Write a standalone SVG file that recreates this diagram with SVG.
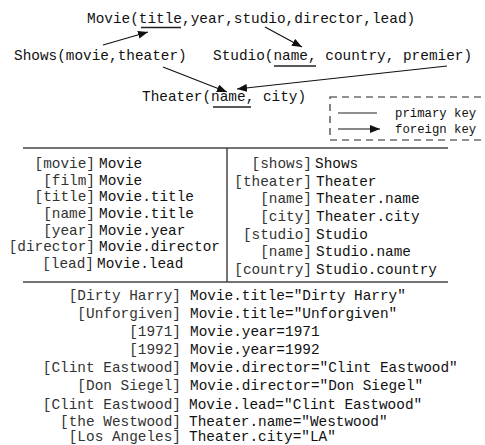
<svg xmlns="http://www.w3.org/2000/svg" width="485" height="445" viewBox="0 0 485 445">
<style>
text{font-family:"Liberation Mono","Courier New",monospace;font-size:14.4px;fill:#111}
.lab{text-anchor:end;fill:#333}
.leg{font-size:12.3px}
.ul{stroke:#222;stroke-width:1.3}
.tbl{stroke:#444;stroke-width:1.5}
.fk{stroke:#111;stroke-width:1.2;fill:none;marker-end:url(#ah)}
</style>
<defs>
<marker id="ah" viewBox="0 0 10 8" refX="10" refY="4" markerWidth="10" markerHeight="8" markerUnits="userSpaceOnUse" orient="auto">
<path d="M0,0 L10,4 L0,8 Z" fill="#111"/>
</marker>
</defs>
<rect width="485" height="445" fill="#fff"/>

<g id="movie">
<text x="87" y="23">Movie(title,year,studio,director,lead)</text>
<line class="ul" x1="141" y1="27.5" x2="181" y2="27.5"/>
</g>
<g id="shows">
<text x="14" y="60">Shows(movie,theater)</text>
</g>
<g id="studio">
<text x="213" y="60">Studio(name, country, premier)</text>
<line class="ul" x1="274" y1="66" x2="316" y2="66"/>
</g>
<g id="theater">
<text x="142" y="101">Theater(name, city)</text>
<line class="ul" x1="213" y1="107" x2="251" y2="107"/>
</g>

<g id="connectors">
<line class="fk" x1="103" y1="45" x2="148" y2="32"/>
<line class="fk" x1="265" y1="27" x2="302" y2="47"/>
<line class="fk" x1="163" y1="67" x2="227" y2="92"/>
<line class="fk" x1="447" y1="66" x2="237" y2="89"/>
</g>

<g id="legend">
<rect x="330" y="97" width="180" height="43" fill="none" stroke="#222" stroke-width="1.1" stroke-dasharray="7,5"/>
<line x1="338" y1="113" x2="377" y2="113" stroke="#222" stroke-width="1.2"/>
<text class="leg" x="395" y="117">primary key</text>
<line class="fk" x1="338" y1="129" x2="380" y2="129"/>
<text class="leg" x="395" y="133">foreign key</text>
</g>

<g id="table">
<line class="tbl" x1="23" y1="148" x2="448" y2="148"/>
<line class="tbl" x1="227" y1="148" x2="227" y2="282"/>
<line class="tbl" x1="23" y1="282" x2="448" y2="282"/>
</g>

<g id="left-col">
<text class="lab" x="95" y="168">[movie]</text><text x="99" y="168">Movie</text>
<text class="lab" x="95" y="185">[film]</text><text x="99" y="185">Movie</text>
<text class="lab" x="95" y="201">[title]</text><text x="99" y="201">Movie.title</text>
<text class="lab" x="95" y="218">[name]</text><text x="99" y="218">Movie.title</text>
<text class="lab" x="95" y="235">[year]</text><text x="99" y="235">Movie.year</text>
<text class="lab" x="95" y="251">[director]</text><text x="99" y="251">Movie.director</text>
<text class="lab" x="94" y="268">[lead]</text><text x="97" y="268">Movie.lead</text>
</g>

<g id="right-col">
<text class="lab" x="312" y="168">[shows]</text><text x="315" y="168">Shows</text>
<text class="lab" x="312" y="185.5">[theater]</text><text x="316" y="185.5">Theater</text>
<text class="lab" x="312" y="203">[name]</text><text x="316" y="203">Theater.name</text>
<text class="lab" x="312" y="221">[city]</text><text x="316" y="221">Theater.city</text>
<text class="lab" x="312" y="238.5">[studio]</text><text x="316" y="238.5">Studio</text>
<text class="lab" x="312" y="256">[name]</text><text x="316" y="256">Studio.name</text>
<text class="lab" x="312" y="273.5">[country]</text><text x="316" y="273.5">Studio.country</text>
</g>

<g id="bottom">
<text class="lab" x="181" y="300">[Dirty Harry]</text><text x="190" y="300">Movie.title="Dirty Harry"</text>
<text class="lab" x="181" y="318">[Unforgiven]</text><text x="190" y="318">Movie.title="Unforgiven"</text>
<text class="lab" x="181" y="336">[1971]</text><text x="190" y="336">Movie.year=1971</text>
<text class="lab" x="181" y="354">[1992]</text><text x="190" y="354">Movie.year=1992</text>
<text class="lab" x="181" y="372">[Clint Eastwood]</text><text x="190" y="372">Movie.director="Clint Eastwood"</text>
<text class="lab" x="181" y="390">[Don Siegel]</text><text x="190" y="390">Movie.director="Don Siegel"</text>
<text class="lab" x="181" y="409">[Clint Eastwood]</text><text x="189" y="409">Movie.lead="Clint Eastwood"</text>
<text class="lab" x="181" y="426">[the Westwood]</text><text x="189" y="426">Theater.name="Westwood"</text>
<text class="lab" x="181" y="441">[Los Angeles]</text><text x="189" y="441">Theater.city="LA"</text>
</g>
</svg>
